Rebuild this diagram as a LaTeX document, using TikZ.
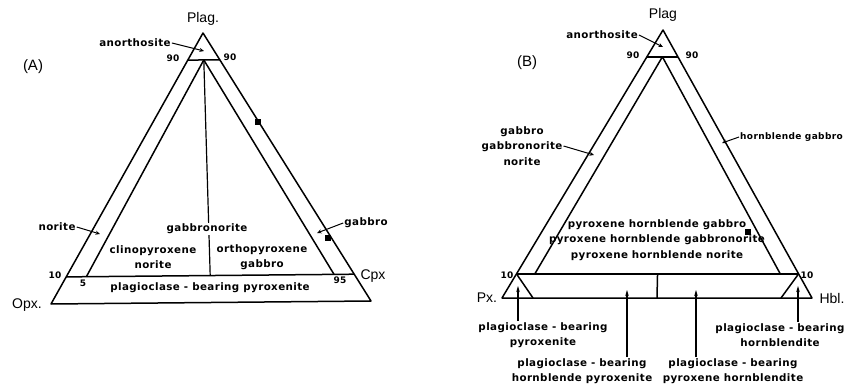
\documentclass[tikz,border=0pt]{standalone}
\usepackage{fontspec}
\setmainfont{Liberation Sans}
\newfontfamily\lblfont[LetterSpace=4]{DejaVu Sans}
\usetikzlibrary{calc,arrows.meta}

\begin{document}
\begin{tikzpicture}[
  x=1pt, y=-1pt,
  edge/.style={line width=1.5pt, line join=round},
  thinedge/.style={line width=1.2pt},
  apex/.style={font=\fontsize{14}{14}\selectfont, inner sep=1pt},
  tag/.style={font=\fontsize{15}{15}\selectfont, inner sep=1pt},
  rock/.style={font=\lblfont\bfseries\fontsize{10.3}{15.5}\selectfont, align=center, inner sep=1pt},
  num/.style={font=\lblfont\bfseries\fontsize{9}{9}\selectfont, inner sep=0.5pt},
  lead/.style={-{Stealth[length=4.5pt,width=4pt]}, line width=1pt},
  pointer/.style={-{Stealth[length=6pt,width=3.5pt]}, line width=1.2pt},
  sq/.style={fill=black, minimum size=5.5pt, inner sep=0pt}
]
\useasboundingbox (0,0) rectangle (851,390);

% ============================================================
% (A) TRIANGLE: Plag - Opx - Cpx
% ============================================================
\coordinate (At) at (203,33);
\coordinate (Al) at (51,304);
\coordinate (Ar) at (371,301);
\coordinate (Al10) at ($(Al)!0.1!(At)$);
\coordinate (Ar10) at ($(Ar)!0.1!(At)$);
\coordinate (Al90) at ($(Al)!0.9!(At)$);
\coordinate (Ar90) at ($(Ar)!0.9!(At)$);
\coordinate (Ai) at ($(Al90)!0.5!(Ar90)$);
\coordinate (Ai5) at ($(Al10)!0.07!(Ar10)$);
\coordinate (Ai95) at ($(Al10)!0.93!(Ar10)$);
\coordinate (Amid) at ($(Al10)!0.5!(Ar10)$);

\draw[edge] (At) -- (Al) -- (Ar) -- cycle;
\draw[edge] (Al10) -- (Ar10);
\draw[edge] (Al90) -- (Ar90);
\draw[edge] (Ai5) -- (Ai) -- (Ai95);
\draw[thinedge] (Ai) -- (Amid);

% ============================================================
% (A) LABELS
% ============================================================
\node[apex] (plagA) at (203,19) {Plag.};
\node[tag] (capA) at (33,67) {(A)};
\node[apex] (opx) at (27,305) {Opx.};
\node[apex] (cpx) at (373,276) {Cpx};
\node[num] (nA90l) at (173,58) {90};
\node[num] (nA90r) at (230,57) {90};
\node[num] (nA10) at (55,275) {10};
\node[num] (nA5) at (83,283) {5};
\node[num] (nA95) at (340,280) {95};

\node[rock] (anoA) at (135,43) {anorthosite};
\coordinate (Aano) at (204,51);
\draw[lead] (anoA.east) -- (Aano);

\node[rock] (norA) at (57,227) {norite};
\coordinate (Anor) at (100,234);
\draw[lead] (norA.east) -- (Anor);

\node[rock] (gabA) at (366,223) {gabbro};
\coordinate (Agab) at (317,233);
\draw[lead] (gabA.west) -- (Agab);

\node[rock, fill=white] (gnA) at (207,229) {gabbronorite};
\node[rock] (cpnA) at (153,257) {clinopyroxene\\norite};
\node[rock] (opgA) at (262,257) {orthopyroxene\\gabbro};
\node[rock] (pbpA) at (210,288) {plagioclase - bearing pyroxenite};

\node[sq] (sqA1) at (258,122) {};
\node[sq] (sqA2) at (328,238) {};

% ============================================================
% (B) TRIANGLE: Plag - Px - Hbl
% ============================================================
\coordinate (Bt) at (663,30);
\coordinate (Bl) at (502,298);
\coordinate (Br) at (812,298);
\coordinate (Bl10) at ($(Bl)!0.09!(Bt)$);
\coordinate (Br10) at ($(Br)!0.09!(Bt)$);
\coordinate (Bl90) at ($(Bl)!0.9!(Bt)$);
\coordinate (Br90) at ($(Br)!0.9!(Bt)$);
\coordinate (Bi) at ($(Bl90)!0.5!(Br90)$);
\coordinate (Bi5) at ($(Bl10)!0.065!(Br10)$);
\coordinate (Bi95) at ($(Bl10)!0.935!(Br10)$);
\coordinate (Bmid) at ($(Bl10)!0.5!(Br10)$);
\coordinate (Bbm) at ($(Bl)!0.5!(Br)$);
\coordinate (Bbl) at ($(Bl)!0.1!(Br)$);
\coordinate (Bbr) at ($(Br)!0.1!(Bl)$);

\draw[edge] (Bt) -- (Bl) -- (Br) -- cycle;
\draw[edge] (Bl10) -- (Br10);
\draw[edge] (Bl90) -- (Br90);
\draw[edge] (Bi5) -- (Bi) -- (Bi95);
\draw[edge] (Bbl) -- (Bl10);
\draw[edge] (Bbr) -- (Br10);
\draw[edge] (Bmid) -- (Bbm);

% ============================================================
% (B) LABELS
% ============================================================
\node[apex] (plagB) at (663,15) {Plag};
\node[tag] (capB) at (527,63) {(B)};
\node[apex] (px) at (487,298) {Px.};
\node[apex] (hbl) at (832,298) {Hbl.};
\node[num] (nB90l) at (633,55) {90};
\node[num] (nB90r) at (692,55) {90};
\node[num] (nB10l) at (507,275) {10};
\node[num] (nB10r) at (807,275) {10};

\node[rock] (anoB) at (602,35) {anorthosite};
\coordinate (Bano) at (663,47);
\draw[lead] (anoB.east) -- (Bano);

\node[rock] (gnB) at (522,146) {gabbro\\gabbronorite\\norite};
\coordinate (Bgn) at (594,155);
\draw[lead] (gnB.east) -- (Bgn);

\node[rock, anchor=west, font=\lblfont\bfseries\fontsize{9}{11}\selectfont] (hbgB) at (739,137) {hornblende gabbro};
\coordinate (Bhbg) at (722,143);
\draw[lead] (hbgB.west) -- (Bhbg);

\node[rock] (cenB) at (657,240) {pyroxene hornblende gabbro\\pyroxene hornblende gabbronorite\\pyroxene hornblende norite};
\node[sq] (sqB) at (748,232) {};

% ============================================================
% (B) LOWER BAND: labels with pointers
% ============================================================
\node[rock] (pbpB) at (543,335) {plagioclase - bearing\\pyroxenite};
\node[rock] (pbhB) at (780,335) {plagioclase - bearing\\hornblendite};
\node[rock] (pbhpB) at (582,371) {plagioclase - bearing\\hornblende pyroxenite};
\node[rock] (pbphB) at (733,371) {plagioclase - bearing\\pyroxene hornblendite};

\coordinate (Bp1) at (518,286);
\coordinate (Bp2) at (627,290);
\coordinate (Bp3) at (696,290);
\coordinate (Bp4) at (798,286);
\draw[pointer] (pbpB.north -| Bp1) -- (Bp1);
\draw[pointer] (pbhpB.north -| Bp2) -- (Bp2);
\draw[pointer] (pbphB.north -| Bp3) -- (Bp3);
\draw[pointer] (pbhB.north -| Bp4) -- (Bp4);

\end{tikzpicture}
\end{document}
